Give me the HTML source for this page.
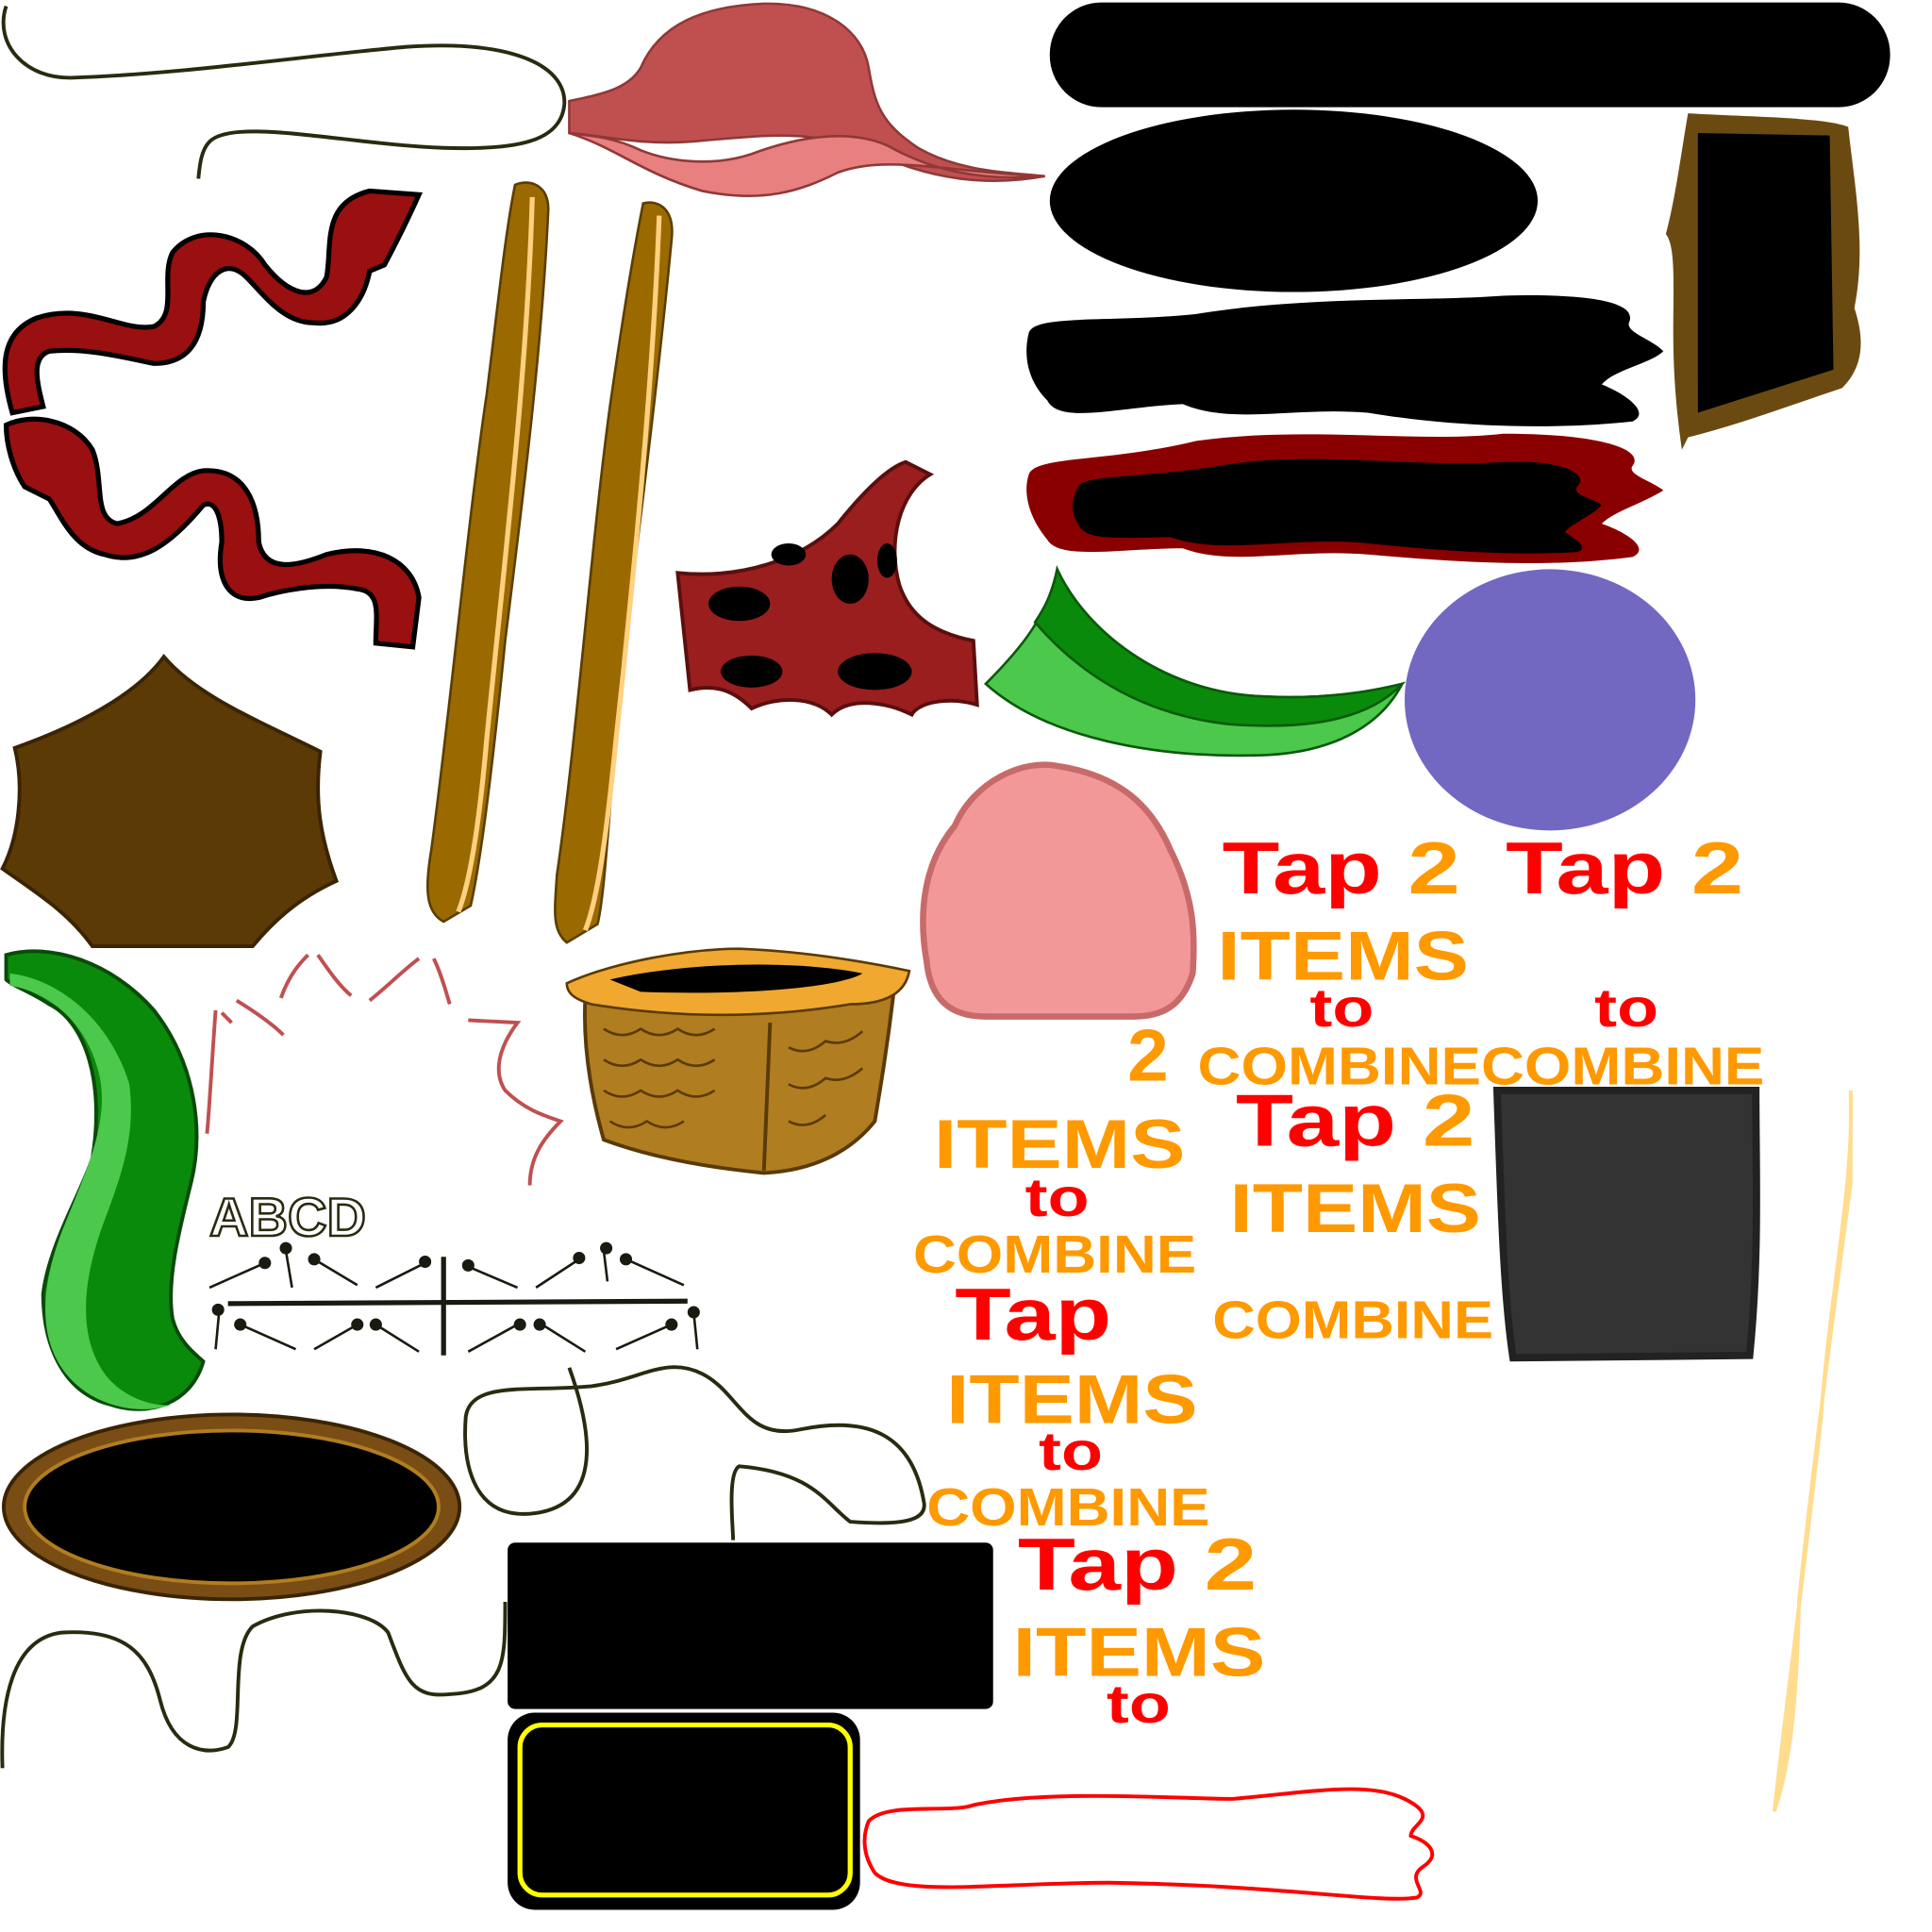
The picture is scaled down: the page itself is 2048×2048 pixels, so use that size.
<!DOCTYPE html>
<html><head><meta charset="utf-8"><style>
html,body{margin:0;padding:0;background:#fff;}
svg{display:block}
text{font-family:"Liberation Sans",Arial,sans-serif;font-weight:bold;}
</style></head><body>
<svg width="2048" height="2048" viewBox="0 0 1568 1568" xmlns="http://www.w3.org/2000/svg">
<rect width="1568" height="1568" fill="#fff"/>
<path d="M5,5 C-5,35 20,65 60,63 C150,60 250,45 330,38 C420,32 460,55 458,85 C455,115 420,122 360,120 C280,117 190,95 170,115 C163,122 162,135 161,145" fill="none" stroke="#2a2a10" stroke-width="3"/>
<path d="M462,82 C490,76 510,72 520,55 C535,20 570,5 620,3 C670,2 700,25 705,55 C710,85 715,100 745,120 C780,140 820,140 848,143 C810,150 760,150 700,120 C650,105 620,110 560,115 C520,118 490,110 462,108 Z" fill="#c05050" stroke="#903838" stroke-width="2"/>
<path d="M462,108 C500,120 520,140 570,155 C620,165 650,155 680,140 C720,125 770,140 848,143 C790,148 750,135 720,118 C690,105 650,110 610,125 C580,135 545,132 520,122 C500,112 480,110 462,108 Z" fill="#e88080" stroke="#903838" stroke-width="2"/>
<rect x="852" y="2" width="682" height="85" rx="42" fill="#000"/>
<ellipse cx="1050" cy="163" rx="198" ry="74" fill="#000"/>
<path d="M835,270 C840,255 900,262 970,255 C1060,240 1150,245 1220,240 C1290,238 1330,245 1322,262 C1320,270 1340,275 1350,285 C1340,295 1310,300 1300,312 C1320,320 1340,335 1325,342 C1250,350 1170,345 1110,335 C1050,330 1000,345 960,328 C910,330 860,345 850,325 C835,310 830,290 835,270 Z" fill="#000"/>
<path d="M835,385 C840,370 900,375 970,358 C1060,345 1150,360 1220,352 C1300,352 1335,365 1325,378 C1320,385 1340,390 1350,398 C1330,410 1310,415 1300,425 C1320,432 1340,445 1325,452 C1250,462 1170,455 1110,450 C1050,445 1000,460 960,445 C910,445 860,455 850,438 C835,420 830,400 835,385 Z" fill="#8a0000"/>
<path d="M875,395 C880,385 930,388 990,378 C1060,365 1150,380 1220,375 C1270,373 1290,385 1280,395 C1275,402 1295,405 1300,410 C1290,420 1275,425 1270,432 C1280,438 1290,445 1280,448 C1220,452 1150,445 1100,440 C1040,437 990,450 950,436 C910,436 880,440 875,425 C868,415 870,405 875,395 Z" fill="#000"/>
<path d="M1370,92 C1420,95 1480,95 1500,103 C1505,150 1515,200 1505,250 C1515,280 1510,300 1495,315 C1450,330 1410,345 1370,355 L1365,365 C1360,330 1358,300 1358,270 C1358,230 1360,200 1352,190 C1360,160 1365,120 1370,92 Z" fill="#6b4a12"/>
<path d="M1378,108 L1485,110 L1488,300 L1378,335 Z" fill="#000"/>
<path d="M10,335 C0,300 0,270 30,258 C70,245 100,270 125,265 C145,255 130,225 140,205 C160,180 200,190 215,215 C235,240 255,245 265,225 C270,200 260,165 300,155 L340,158 C330,180 320,200 312,215 L300,220 C295,245 280,265 255,262 C230,262 215,240 200,225 C185,210 170,220 165,245 C165,280 150,295 125,295 C100,290 70,282 40,285 C25,290 30,310 35,330 Z" fill="#9a0f0f" stroke="#000" stroke-width="4"/>
<path d="M5,345 C25,335 60,340 75,365 C85,390 75,420 95,425 C125,420 140,385 165,382 C200,380 210,410 210,440 C215,465 240,460 265,450 C305,440 335,455 340,485 L335,525 L305,522 C305,500 310,480 290,478 C260,472 225,480 210,485 C185,490 175,470 180,440 C180,420 175,405 165,410 C140,440 115,460 85,450 C60,445 50,420 40,405 L20,395 C10,380 5,360 5,345 Z" fill="#9a0f0f" stroke="#000" stroke-width="4"/>
<path d="M418,150 C430,145 445,150 445,170 C440,280 425,400 410,520 C400,620 390,700 382,735 L360,748 C345,740 345,720 350,690 C365,580 380,420 395,320 C405,240 410,190 418,150 Z" fill="#9a6a00" stroke="#5a3e00" stroke-width="2"/>
<path d="M432,160 C428,300 410,450 395,600 C388,680 380,720 372,740" fill="none" stroke="#ffd080" stroke-width="4"/>
<path d="M522,165 C535,162 548,170 545,195 C535,300 520,420 505,540 C495,640 492,720 485,750 L460,765 C448,755 450,740 452,710 C468,600 480,440 495,330 C505,260 515,200 522,165 Z" fill="#9a6a00" stroke="#5a3e00" stroke-width="2"/>
<path d="M535,175 C530,310 515,460 500,600 C492,680 485,730 475,755" fill="none" stroke="#ffd080" stroke-width="4"/>
<path d="M550,465 C600,470 650,455 680,425 C700,400 720,380 735,375 L755,385 C730,400 720,440 730,475 C740,505 765,515 790,520 L793,572 C770,565 745,570 740,580 C720,570 690,565 675,580 C660,565 630,565 610,575 C595,560 580,555 560,560 Z" fill="#9a1e1e" stroke="#5a0f0f" stroke-width="3"/>
<ellipse cx="600" cy="490" rx="25" ry="14" fill="#000"/><ellipse cx="690" cy="470" rx="15" ry="20" fill="#000"/><ellipse cx="640" cy="450" rx="14" ry="9" fill="#000"/><ellipse cx="610" cy="545" rx="25" ry="13" fill="#000"/><ellipse cx="710" cy="545" rx="30" ry="15" fill="#000"/><ellipse cx="720" cy="455" rx="8" ry="14" fill="#000"/>
<path d="M858,462 C880,510 940,560 1020,565 C1070,568 1110,562 1138,555 C1120,590 1080,612 1020,613 C940,615 850,600 800,555 C830,525 850,500 858,462 Z" fill="#4cc84c" stroke="#0a5a0a" stroke-width="2"/>
<path d="M858,462 C880,510 940,560 1020,565 C1070,568 1110,562 1138,555 C1110,585 1060,592 1000,588 C920,580 870,540 840,505 C850,490 855,478 858,462 Z" fill="#0a8a0a" stroke="#0a5a0a" stroke-width="2"/>
<ellipse cx="1258" cy="568" rx="118" ry="106" fill="#7268c2"/>
<path d="M12,607 C60,590 110,565 133,533 C160,565 210,585 260,610 C255,650 260,680 273,715 C240,730 220,750 205,768 L75,768 C55,740 30,725 2,705 C15,680 20,640 12,607 Z" fill="#5c3a06" stroke="#3a2404" stroke-width="3"/>
<path d="M775,670 C790,635 830,615 860,622 C910,630 935,655 950,690 C970,730 970,760 968,790 C960,815 945,825 920,825 L800,825 C770,825 755,810 752,780 C745,740 750,700 775,670 Z" fill="#f29898" stroke="#c86a6a" stroke-width="5"/>
<path d="M5,775 C40,765 90,780 125,820 C160,865 165,920 155,960 C145,1000 135,1040 140,1070 C145,1090 160,1100 165,1105 C155,1140 120,1150 90,1140 C50,1130 35,1090 35,1050 C40,1010 65,970 75,940 C85,880 70,830 40,815 C25,805 10,800 5,795 Z" fill="#0a8a0a" stroke="#0a4a0a" stroke-width="3"/>
<path d="M8,790 C50,795 90,830 105,880 C110,920 100,950 85,990 C70,1030 60,1080 85,1115 C100,1135 125,1142 140,1140 C110,1150 70,1140 50,1110 C30,1080 35,1040 50,1000 C70,950 90,910 80,870 C70,830 40,805 8,800 Z" fill="#4cc84c"/>
<path d="M175,820 C172,860 170,900 168,920 M180,822 L188,830 M192,812 C205,820 220,830 230,840 M228,810 C235,790 245,780 250,775 M258,775 C265,785 275,800 285,808 M300,812 C315,800 330,785 340,778 M352,778 C358,790 362,805 365,815 M380,828 L420,830 C405,850 400,870 410,885 C425,900 440,905 455,910 C440,925 430,940 430,962" fill="none" stroke="#c05050" stroke-width="3"/>
<path d="M475,810 L725,808 C720,850 715,880 710,910 C690,935 660,950 620,952 C580,948 530,940 490,925 C480,890 473,850 475,810 Z" fill="#b07d20" stroke="#5a3a06" stroke-width="3"/>
<path d="M625,830 L620,950" stroke="#5a3a06" stroke-width="3"/>
<path d="M490,835 q15,10 30,0 q15,10 30,0 q15,10 30,0 M490,860 q15,10 30,0 q15,10 30,0 q15,10 30,0 M490,885 q15,10 30,0 q15,10 30,0 q15,10 30,0 M495,910 q15,10 30,0 q15,10 30,0 M640,850 q15,8 30,-5 q15,5 30,-8 M640,880 q15,8 30,-5 q15,5 30,-8 M640,910 q15,8 30,-5" fill="none" stroke="#5a3a06" stroke-width="2"/>
<path d="M460,798 C500,780 560,770 600,770 C650,772 700,780 738,788 C735,805 720,815 690,815 C630,825 560,828 480,815 C470,812 460,808 460,798 Z" fill="#f0a830" stroke="#5a3a06" stroke-width="2"/>
<path d="M495,795 C550,782 640,778 700,790 C680,802 600,808 520,805 Z" fill="#000"/>
<text x="170" y="1003" font-size="44" font-weight="normal" fill="none" stroke="#2a2a10" stroke-width="2" font-family="Liberation Serif">ABCD</text>
<path d="M185,1058 L558,1056 M360,1020 L360,1100" stroke="#1a1a10" stroke-width="4"/>
<g stroke="#1a1a10" stroke-width="2" fill="#1a1a10">
<path d="M170,1045 L215,1025 M232,1015 L237,1045 M255,1022 L290,1043 M305,1045 L345,1025 M380,1028 L420,1045 M435,1045 L470,1022 M490,1015 L493,1040 M508,1022 L555,1043 M178,1063 L175,1095 M195,1075 L240,1095 M255,1095 L290,1075 M305,1075 L340,1097 M380,1097 L420,1075 M440,1075 L475,1097 M500,1095 L545,1075 M563,1065 L566,1095" fill="none"/>
<circle cx="215" cy="1025" r="4"/><circle cx="232" cy="1013" r="4"/><circle cx="255" cy="1022" r="4"/><circle cx="345" cy="1024" r="4"/><circle cx="380" cy="1027" r="4"/><circle cx="470" cy="1021" r="4"/><circle cx="492" cy="1013" r="4"/><circle cx="508" cy="1022" r="4"/><circle cx="177" cy="1063" r="4"/><circle cx="195" cy="1075" r="4"/><circle cx="290" cy="1075" r="4"/><circle cx="305" cy="1075" r="4"/><circle cx="422" cy="1075" r="4"/><circle cx="438" cy="1075" r="4"/><circle cx="545" cy="1075" r="4"/><circle cx="563" cy="1065" r="4"/>
</g>
<ellipse cx="188" cy="1223" rx="185" ry="75" fill="#7a4d14" stroke="#3a2404" stroke-width="3"/>
<ellipse cx="188" cy="1223" rx="168" ry="62" fill="#000" stroke="#b07d20" stroke-width="3"/>
<path d="M462,1110 C480,1160 490,1220 435,1228 C385,1235 375,1190 378,1150 C382,1120 430,1130 480,1125 C520,1120 540,1100 570,1115 C600,1130 605,1170 650,1160 C700,1150 740,1160 750,1220 C752,1235 730,1238 690,1235 C670,1220 660,1195 600,1190 C590,1195 595,1240 595,1250" fill="none" stroke="#2a2a10" stroke-width="3"/>
<path d="M2,1435 C0,1380 10,1330 50,1325 C100,1322 120,1340 130,1380 C140,1420 165,1425 185,1418 C200,1405 185,1340 205,1320 C240,1300 300,1305 315,1325 C330,1365 335,1378 365,1375 C410,1373 410,1350 410,1300" fill="none" stroke="#2a2a10" stroke-width="3"/>
<rect x="412" y="1252" width="394" height="135" rx="6" fill="#000"/>
<rect x="412" y="1390" width="286" height="160" rx="22" fill="#000"/>
<rect x="422" y="1400" width="268" height="138" rx="18" fill="none" stroke="#ffff00" stroke-width="4"/>
<path d="M705,1478 C720,1462 770,1472 790,1465 C850,1452 960,1460 1000,1460 C1060,1455 1110,1445 1140,1460 C1170,1475 1145,1480 1145,1490 C1160,1495 1170,1505 1155,1515 C1140,1525 1160,1535 1150,1540 C1120,1545 1040,1530 900,1528 C810,1528 730,1540 710,1520 C700,1505 700,1490 705,1478 Z" fill="none" stroke="#ff0000" stroke-width="3"/>
<path d="M1215,885 L1425,885 C1425,950 1428,1020 1420,1100 L1228,1102 C1220,1050 1218,970 1215,885 Z" fill="#333" stroke="#222" stroke-width="6"/>
<path d="M1502,885 C1505,960 1485,1050 1478,1150 C1465,1270 1450,1380 1440,1470 C1450,1440 1458,1400 1460,1300 C1470,1200 1490,1050 1502,960 Z" fill="#ffdc8e" stroke="#ffdc8e" stroke-width="3"/>
<g font-size="60">
<text x="992" y="725" fill="#ff0000" textLength="193" lengthAdjust="spacingAndGlyphs">Tap <tspan fill="#ff9900">2</tspan></text>
<text x="1222" y="725" fill="#ff0000" textLength="193" lengthAdjust="spacingAndGlyphs">Tap <tspan fill="#ff9900">2</tspan></text>
<text x="1003" y="930" fill="#ff0000" textLength="194" lengthAdjust="spacingAndGlyphs">Tap <tspan fill="#ff9900">2</tspan></text>
<text x="775" y="1087" fill="#ff0000" textLength="127" lengthAdjust="spacingAndGlyphs">Tap</text>
<text x="826" y="1290" fill="#ff0000" textLength="194" lengthAdjust="spacingAndGlyphs">Tap <tspan fill="#ff9900">2</tspan></text>
</g>
<g font-size="56" fill="#ff9900">
<text x="988" y="795" textLength="204" lengthAdjust="spacingAndGlyphs">ITEMS</text>
<text x="758" y="948" textLength="204" lengthAdjust="spacingAndGlyphs">ITEMS</text>
<text x="998" y="1000" textLength="204" lengthAdjust="spacingAndGlyphs">ITEMS</text>
<text x="768" y="1155" textLength="204" lengthAdjust="spacingAndGlyphs">ITEMS</text>
<text x="822" y="1360" textLength="205" lengthAdjust="spacingAndGlyphs">ITEMS</text>
<text x="915" y="877" font-size="60">2</text>
</g>
<g font-size="44" fill="#ff0000">
<text x="1063" y="833" textLength="52" lengthAdjust="spacingAndGlyphs">to</text><text x="1294" y="833" textLength="52" lengthAdjust="spacingAndGlyphs">to</text><text x="832" y="987" textLength="52" lengthAdjust="spacingAndGlyphs">to</text><text x="843" y="1193" textLength="52" lengthAdjust="spacingAndGlyphs">to</text><text x="898" y="1398" textLength="52" lengthAdjust="spacingAndGlyphs">to</text>
</g>
<g font-size="43" fill="#ff9900">
<text x="972" y="880" textLength="460" lengthAdjust="spacingAndGlyphs">COMBINECOMBINE</text>
<text x="741" y="1033" textLength="230" lengthAdjust="spacingAndGlyphs">COMBINE</text>
<text x="984" y="1086" textLength="228" lengthAdjust="spacingAndGlyphs">COMBINE</text>
<text x="752" y="1238" textLength="230" lengthAdjust="spacingAndGlyphs">COMBINE</text>
</g>
</svg>
</body></html>
